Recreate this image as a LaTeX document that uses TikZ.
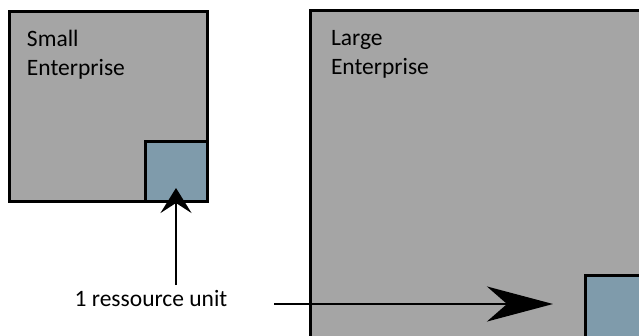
\documentclass[tikz,border=0pt]{standalone}
\usepackage{fontspec}
\setmainfont{Carlito}
\usetikzlibrary{arrows.meta}
\definecolor{boxgray}{HTML}{A5A5A5}
\definecolor{unitblue}{HTML}{7F9BAB}
\tikzset{
  entbox/.style={draw=black, fill=boxgray, line width=3pt, rectangle, inner sep=0pt, outer sep=0pt, anchor=north west},
  unitbox/.style={draw=black, fill=unitblue, line width=3pt, rectangle, inner sep=0pt, outer sep=0pt, anchor=north west},
  lbl/.style={inner sep=0pt, outer sep=0pt, align=left, font=\fontsize{23.5}{29}\selectfont, text=black},
  pointer/.style={draw=black, line width=2.6pt}
}
\begin{document}
\begin{tikzpicture}[x=1pt,y=-1pt]
\useasboundingbox (0,0) rectangle (639,335);
\clip (0,0) rectangle (639,335);
\fill[white] (0,0) rectangle (639,335);
% small enterprise
\node[entbox, minimum width=198pt, minimum height=190pt] (small) at (9.5,11.5) {};
\node[unitbox, minimum width=62pt, minimum height=60.5pt] (unitS) at (145.5,141) {};
\node[lbl, anchor=north west] (smallT) at (27,30) {Small\\Enterprise};
% large enterprise
\node[entbox, minimum width=400pt, minimum height=400pt] (large) at (310.5,10) {};
\node[unitbox, minimum width=120pt, minimum height=120pt] (unitL) at (585.5,275.5) {};
\node[lbl, anchor=north west] (largeT) at (331,30) {Large\\Enterprise};
% label and arrows
\node[lbl, anchor=base] (unit) at (151,306) {1 ressource unit};
\coordinate (vs) at (176,285);
\coordinate (ve) at (176,188);
\coordinate (hs) at (274,304);
\coordinate (he) at (553,304);
\draw[pointer, -{Stealth[length=25pt, width=31pt, inset=10pt]}] (vs) -- (ve);
\draw[pointer, -{Stealth[length=66pt, width=35pt, inset=20pt]}] (hs) -- (he);
\end{tikzpicture}
\end{document}
